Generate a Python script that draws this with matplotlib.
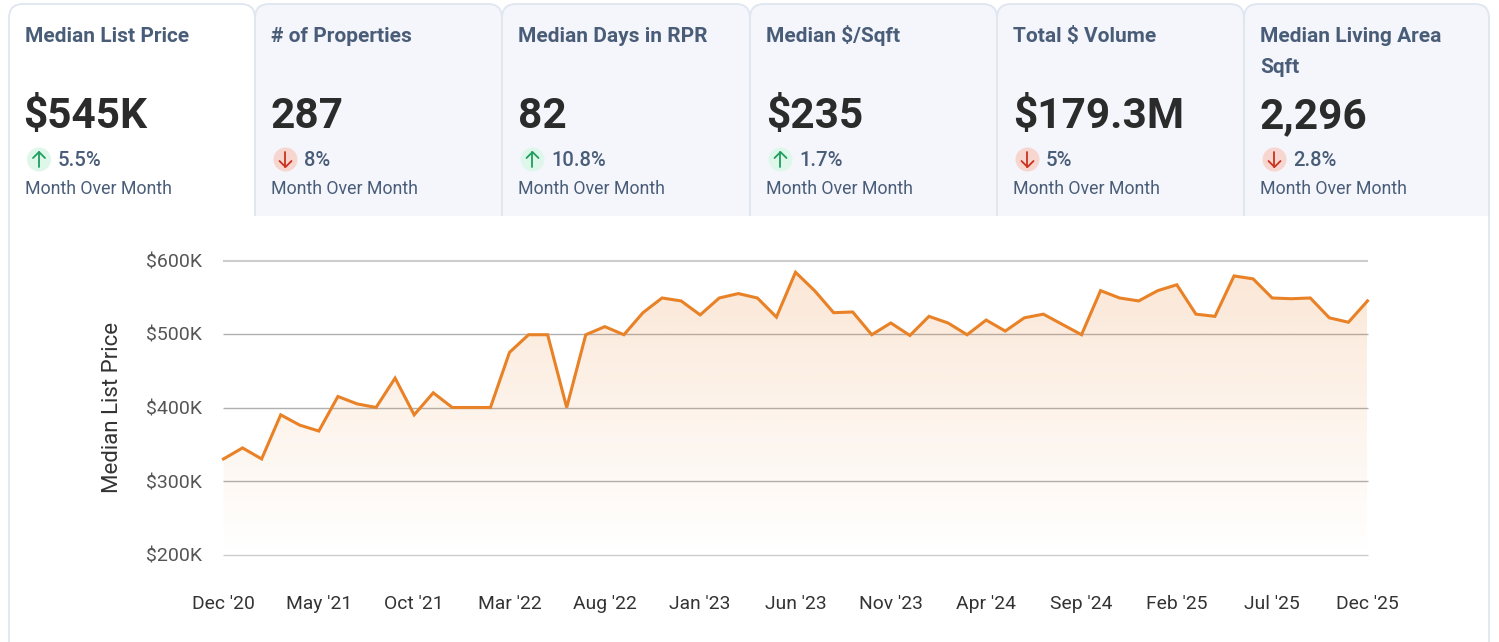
import numpy as np
import matplotlib
matplotlib.use("Agg")
import matplotlib.pyplot as plt
from matplotlib.patches import Circle, FancyBboxPatch, Polygon, Rectangle

plt.rcParams['font.family'] = ['Roboto', 'DejaVu Sans']

# KPI tabs
card_titles = [["Median List Price"], ["# of Properties"], ["Median Days in RPR"],
               ["Median $/Sqft"], ["Total $ Volume"], ["Median Living Area", "Sqft"]]
card_values = ["$545K", "287", "82", "$235", "$179.3M", "2,296"]
card_changes = ["5.5%", "8%", "10.8%", "1.7%", "5%", "2.8%"]
card_up = [True, False, True, True, False, False]
card_note = "Month Over Month"

# chart data, monthly
months = ["Dec '20", "May '21", "Oct '21", "Mar '22", "Aug '22", "Jan '23", "Jun '23",
          "Nov '23", "Apr '24", "Sep '24", "Feb '25", "Jul '25", "Dec '25"]
prices = [330, 345, 330, 390, 376, 368, 415, 405, 400, 440,
          390, 420, 400, 400, 400, 475, 499, 499, 400, 499,
          510, 499, 529, 549, 545, 526, 549, 555, 549, 523,
          584, 559, 529, 530, 499, 515, 498, 524, 515, 499,
          519, 504, 522, 527, 513, 499, 559, 549, 545, 559,
          567, 527, 524, 579, 575, 549, 548, 549, 522, 516, 545]
price_ticks = [200, 300, 400, 500, 600]

W, H = 1499, 642
fig = plt.figure(figsize=(W / 100, H / 100), dpi=100, facecolor='white')

# background axes in pixel coordinates, for the tabs
bg = fig.add_axes([0, 0, 1, 1])
bg.set_xlim(0, W)
bg.set_ylim(H, 0)
bg.axis('off')

edges = [9, 255, 502, 750, 997, 1244, 1489]
border = '#dfe6f0'
slate = '#4a5d78'

# panel sides under the tabs
bg.plot([9.5, 9.5], [216, H], color=border, lw=1.3, zorder=1)
bg.plot([1489, 1489], [216, H], color=border, lw=1.3, zorder=1)

clip = Rectangle((0, 0), W, 216, transform=bg.transData)
for i in range(6):
    left, right = edges[i], edges[i + 1]
    face = 'white' if i == 0 else '#f4f6fb'
    tab = FancyBboxPatch((left + 14, 4 + 14), right - left - 28, 260,
                         boxstyle="round,pad=14,rounding_size=14",
                         fc=face, ec=border, lw=1.3, zorder=2)
    bg.add_patch(tab)
    tab.set_clip_path(clip)

    tx = left + 16 if i == 0 else left + 16.5
    for line, base in zip(card_titles[i], [41.5, 73.2]):
        bg.text(tx - 0.3, base, line, fontsize=15.0, fontweight='bold', color=slate,
                va='baseline', ha='left', zorder=3)
    vx = tx - 1.5 if i == 0 else tx - 0.7
    bg.text(vx, 128.0, card_values[i], fontsize=30.5, fontweight='bold', color='#2b2b2b',
            va='baseline', ha='left', zorder=3)

    # arrow badge
    cx = tx + 14
    up = card_up[i]
    badge = '#dff7ea' if up else '#f7d6cf'
    arrow = '#1e9e5e' if up else '#c9321f'
    bg.add_patch(Circle((cx, 159.5), 12, fc=badge, ec='none', zorder=3))
    tip = 152 if up else 167
    tail = 167 if up else 152
    wing = 158 if up else 161
    bg.plot([cx, cx], [tip, tail], color=arrow, lw=1.3, zorder=4, solid_capstyle='round')
    bg.plot([cx - 6, cx, cx + 6], [wing, tip, wing], color=arrow, lw=1.3, zorder=4,
            solid_capstyle='round')

    bg.text(tx + 32.5, 165.5, card_changes[i], fontsize=14.6, fontweight='medium', color=slate,
            va='baseline', ha='left', zorder=3)
    bg.text(tx - 0.3, 193.8, card_note, fontsize=12.8, color=slate, va='baseline', ha='left', zorder=3)

# chart axes, placed so the plot area fits the gridlines
x0, x1, ytop, ybot = 223.5, 1367.5, 260.5, 554.5
ax = fig.add_axes([x0 / W, 1 - ybot / H, (x1 - x0) / W, (ybot - ytop) / H])
ax.patch.set_alpha(0)
xs = np.arange(len(prices))

for v in price_ticks:
    c = '#cccccc' if v in (200, 600) else '#b0b0b0'
    ax.axhline(v, color=c, lw=1.5 if v == 600 else 1.0, zorder=1, clip_on=False,
               solid_capstyle='butt')

# gradient fill under the line
grad = np.zeros((256, 2, 4))
grad[..., 0] = 233 / 255
grad[..., 1] = 129 / 255
grad[..., 2] = 42 / 255
grad[..., 3] = np.linspace(0.19, 0.0, 256)[:, None]
im = ax.imshow(grad, extent=[0, len(prices) - 1, 200, 584], aspect='auto', origin='upper', zorder=2)
poly = Polygon(list(zip(xs, prices)) + [(xs[-1], 200), (xs[0], 200)], closed=True,
               transform=ax.transData, fc='none', ec='none')
ax.add_patch(poly)
im.set_clip_path(poly)

ax.plot(xs, prices, color='#e98126', lw=2.2, zorder=3, clip_on=False, solid_joinstyle='miter')

ax.set_xlim(0, len(prices) - 1)
ax.set_ylim(200, 600)
ax.set_yticks(price_ticks)
ax.set_yticklabels(["$%dK" % v for v in price_ticks], fontsize=14, color='#555555')
ax.set_xticks(xs[::5])
ax.set_xticklabels(months, fontsize=13.9, color='#333333')
ax.tick_params(axis='y', length=0, pad=15.3)
ax.tick_params(axis='x', length=0, pad=29)
for s in ax.spines.values():
    s.set_visible(False)

bg.text(112.5, 407, "Median List Price", rotation=90, fontsize=16, color='#333333',
        va='center', ha='center', zorder=3)

fig.savefig("out.png", dpi=100, facecolor='white')
